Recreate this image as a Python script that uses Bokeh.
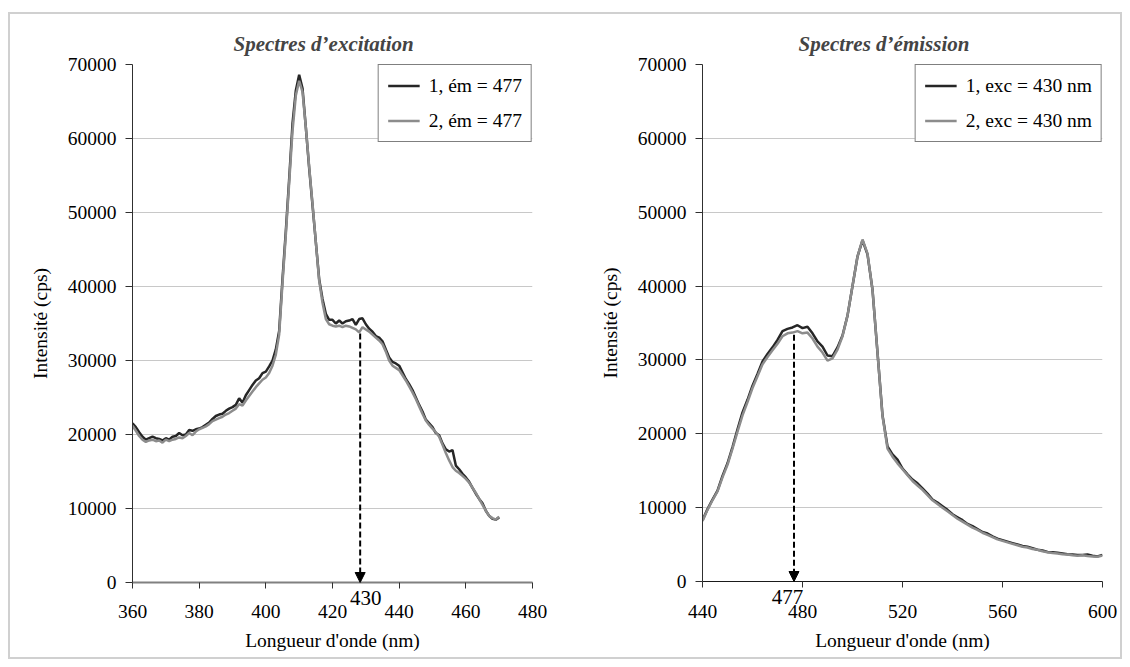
from bokeh.plotting import figure
from bokeh.models import (Legend, LegendItem, Arrow, NormalHead, LinearAxis,
                          FixedTicker, SingleIntervalTicker, NumeralTickFormatter,
                          Range1d)
from bokeh.layouts import row
from bokeh.embed import file_html
from bokeh.resources import INLINE

# ---------------- data ----------------
exc_title = "Spectres d\u2019excitation"
em_title = "Spectres d\u2019\u00e9mission"
x_label = "Longueur d'onde (nm)"
y_label = "Intensit\u00e9 (cps)"

exc_labels = ["1, \u00e9m = 477", "2, \u00e9m = 477"]
em_labels = ["1, exc = 430 nm", "2, exc = 430 nm"]

exc_ticks = [360, 380, 400, 420, 440, 460, 480]
em_ticks = [440, 480, 520, 560, 600]

exc_wavelength = list(range(360, 471))
exc_series1 = [
    21500, 21000, 20300, 19700, 19300, 19500, 19700, 19500, 19400, 19200,
    19500, 19300, 19700, 19800, 20200, 19900, 20000, 20600, 20500, 20700,
    20800, 21000, 21300, 21600, 22100, 22500, 22700, 22800, 23200, 23500,
    23700, 24000, 24900, 24300, 25300, 26000, 26700, 27300, 27600, 28300,
    28500, 29200, 30000, 31500, 34000, 41000, 47500, 54500, 62000, 66500,
    68600, 66800, 61500, 56000, 51000, 46000, 41000, 38300, 36300, 35500,
    35500, 35000, 35400, 35000, 35300, 35400, 35600, 34800, 35600, 35700,
    34900, 34300, 33900, 33300, 33100, 32600, 31500, 30400, 29800, 29600,
    29300, 28400, 27500, 26800, 26000, 25000, 24000, 23100, 22000, 21500,
    21000, 20200, 19900, 18800, 18000, 17700, 17900, 15800, 15300, 14700,
    14200, 13600, 12800, 12000, 11300, 10700, 9700, 9000, 8600, 8500,
    8800]
exc_series2 = [
    21200, 20500, 19800, 19300, 19000, 19200, 19300, 19100, 19200, 18900,
    19300, 19100, 19300, 19400, 19600, 19500, 19800, 20200, 19900, 20400,
    20700, 20900, 21100, 21400, 21800, 22000, 22200, 22400, 22700, 22900,
    23200, 23500, 24100, 23900, 24600, 25200, 25800, 26400, 26900, 27400,
    27700, 28300, 29300, 30800, 33500, 40500, 47000, 54000, 61000, 65800,
    67800, 66300, 61500, 56200, 51200, 46000, 40800, 37800, 35600, 34900,
    34700, 34600, 34700, 34500, 34700, 34600, 34400, 34200, 33800, 34500,
    34200, 33900, 33500, 33100, 32700, 32200, 31200, 30000, 29300, 29000,
    28700, 28000, 27300, 26500, 25700, 24800, 23800, 22800, 21900, 21300,
    20800, 20300, 19700, 18600, 17500, 16500, 15600, 15100, 14800, 14400,
    14000, 13500, 12800, 12100, 11300, 10500, 9700, 9000, 8700, 8500,
    8900]

em_wavelength = list(range(440, 601, 2))
em_series1 = [
    8300, 9800, 11100, 12300, 14300, 16000, 18200, 20600, 22900, 24600,
    26500, 28100, 29800, 30800, 31700, 32700, 33900, 34200, 34400, 34700,
    34300, 34500, 33600, 32500, 31800, 30600, 30500, 31700, 33300, 36000,
    40000, 44000, 46200, 44300, 39500, 31000, 22500, 18300, 17200, 16500,
    15300, 14500, 13800, 13300, 12600, 11900, 11100, 10700, 10200, 9700,
    9100, 8700, 8300, 7800, 7500, 7100, 6700, 6500, 6100, 5800,
    5600, 5400, 5200, 5000, 4800, 4700, 4500, 4300, 4200, 4000,
    3950, 3900, 3800, 3700, 3650, 3600, 3600, 3650, 3500, 3400,
    3600]
em_series2 = [
    8200, 9700, 11000, 12200, 14100, 15800, 18000, 20300, 22500, 24300,
    26200, 27800, 29400, 30400, 31300, 32200, 33200, 33600, 33700, 33900,
    33600, 33700, 32900, 31800, 31000, 29900, 30200, 31400, 33200, 36000,
    40000, 44000, 46300, 44400, 39500, 31000, 22400, 18000, 16900, 16000,
    15200, 14400, 13600, 13000, 12400, 11700, 11000, 10500, 10000, 9500,
    9000, 8500, 8100, 7700, 7300, 7000, 6600, 6300, 6000, 5700,
    5500, 5300, 5100, 4900, 4700, 4600, 4400, 4300, 4100, 3950,
    3850, 3800, 3700, 3650, 3550, 3500, 3550, 3450, 3400, 3350,
    3500]

# annotated maxima: arrow x, arrow top, label position and label text
exc_mark_x, exc_mark_top = 428.3, 33650
exc_mark_label_x, exc_mark_text = 430, "430"
em_mark_x, em_mark_top = 476.6, 33400
em_mark_label_x, em_mark_text = 474, "477"

# ---------------- style ----------------
FONT = "'Liberation Serif', 'Times New Roman', serif"
FS = "19.5px"
C1 = "#262626"
C2 = "#8c8c8c"


def make_plot(title, title_offset, xs, x_start, x_end, ticks, s1, s2, labels,
              mark_x, mark_top, mark_label_x, mark_text, mark_standoff,
              tick_standoff, left, right, top, fh, bottom,
              xaxis_color, xaxis_width):
    p = figure(frame_width=400, frame_height=fh,
               x_range=Range1d(x_start, x_end), y_range=Range1d(0, 70000),
               x_axis_location=None,
               output_backend="svg", toolbar_location=None,
               min_border_left=left, min_border_right=right,
               min_border_top=top, min_border_bottom=bottom,
               background_fill_color="white", border_fill_color="white")
    p.outline_line_color = None
    p.title.text = title
    p.title.text_font = FONT
    p.title.text_font_style = "bold italic"
    p.title.text_font_size = "21px"
    p.title.align = "left"
    p.title.offset = title_offset
    p.title.standoff = 18

    for g in p.grid:
        if g.dimension == 0:
            g.visible = False
    p.ygrid.grid_line_color = "#c8c8c8"
    p.ygrid.grid_line_width = 1

    # y axis
    yax = p.yaxis[0]
    yax.ticker = SingleIntervalTicker(interval=10000)
    yax.formatter = NumeralTickFormatter(format="0")
    yax.major_label_text_font = FONT
    yax.major_label_text_font_size = FS
    yax.major_label_text_color = "black"
    yax.axis_label = y_label
    yax.axis_label_text_font = FONT
    yax.axis_label_text_font_size = FS
    yax.axis_label_text_font_style = "normal"
    yax.axis_label_text_color = "black"
    yax.minor_tick_line_color = None
    yax.major_tick_in = 0
    yax.major_tick_out = 7
    yax.axis_line_color = "#303030"
    yax.major_tick_line_color = "#303030"
    yax.major_label_standoff = 9
    yax.axis_label_standoff = 14

    # x axis (line, tick marks and the annotated wavelength)
    ax_a = LinearAxis(ticker=FixedTicker(ticks=[mark_label_x], minor_ticks=ticks),
                      major_label_overrides={mark_label_x: mark_text},
                      axis_line_color=xaxis_color, axis_line_width=xaxis_width,
                      major_tick_line_color=None, major_tick_in=0,
                      major_tick_out=0, minor_tick_in=0, minor_tick_out=6,
                      minor_tick_line_color="#303030",
                      major_label_standoff=mark_standoff,
                      major_label_text_font=FONT,
                      major_label_text_font_size="21px",
                      major_label_text_color="black")
    # x axis (tick labels and title)
    ax_b = LinearAxis(ticker=FixedTicker(ticks=ticks, minor_ticks=[]),
                      axis_line_color=None, major_tick_line_color=None,
                      minor_tick_line_color=None, major_tick_in=0,
                      major_tick_out=0, major_label_standoff=tick_standoff,
                      major_label_text_font=FONT,
                      major_label_text_font_size=FS,
                      major_label_text_color="black",
                      axis_label=x_label, axis_label_standoff=9,
                      axis_label_text_font=FONT,
                      axis_label_text_font_size=FS,
                      axis_label_text_font_style="normal",
                      axis_label_text_color="black")
    p.add_layout(ax_a, "below")
    p.add_layout(ax_b, "below")

    r1 = p.line(xs, s1, line_color=C1, line_width=2.5)
    r2 = p.line(xs, s2, line_color=C2, line_width=2.5)

    legend = Legend(items=[LegendItem(label=labels[0], renderers=[r1]),
                           LegendItem(label=labels[1], renderers=[r2])],
                    location="top_right", margin=0, padding=9, spacing=12,
                    label_height=23, glyph_height=23, glyph_width=32,
                    label_standoff=9, border_line_color="black",
                    border_line_width=1, background_fill_color="white",
                    background_fill_alpha=1, label_text_font=FONT,
                    label_text_font_size=FS, label_text_color="black")
    p.add_layout(legend)

    p.add_layout(Arrow(x_start=mark_x, y_start=mark_top, x_end=mark_x, y_end=0,
                       line_color="black", line_width=2, line_dash="6 3",
                       end=NormalHead(size=10, fill_color="black",
                                      line_color="black")))
    return p


p1 = make_plot(exc_title, 101, exc_wavelength, 360, 480, exc_ticks,
               exc_series1, exc_series2, exc_labels,
               exc_mark_x, exc_mark_top, exc_mark_label_x, exc_mark_text, 2, -3,
               left=122, right=38, top=50, fh=518, bottom=75,
               xaxis_color="#808080", xaxis_width=2)
p2 = make_plot(em_title, 96, em_wavelength, 440, 600, em_ticks,
               em_series1, em_series2, em_labels,
               em_mark_x, em_mark_top, em_mark_label_x, em_mark_text, 2, -2,
               left=132, right=18, top=49, fh=517, bottom=77,
               xaxis_color="#1a1a1a", xaxis_width=1.2)

layout = row(p1, p2, styles={"border": "2px solid #d0d0d0"},
             margin=(12, 0, 0, 8))

open("out.html", "w").write(file_html(layout, INLINE))
